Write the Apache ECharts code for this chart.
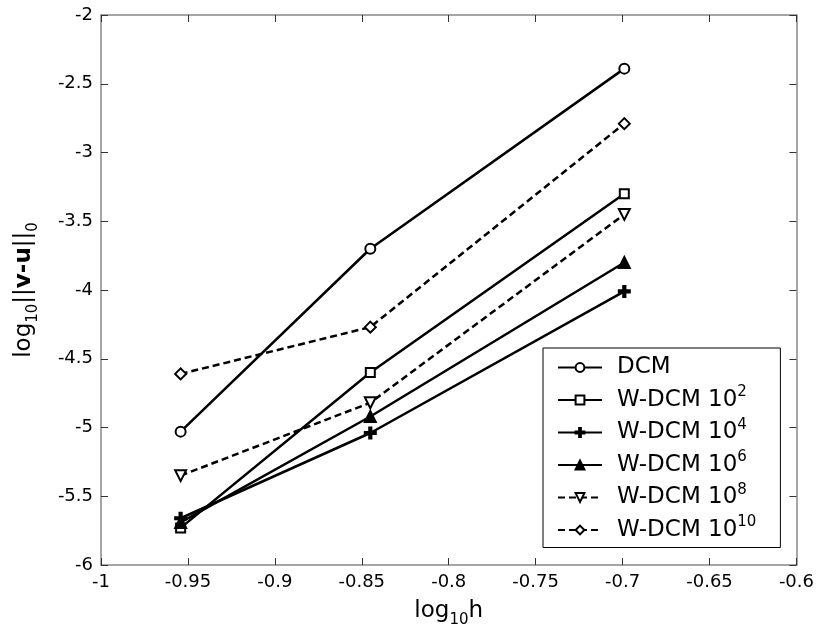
<!DOCTYPE html>
<html>
<head>
<meta charset="utf-8">
<script src="https://cdn.jsdelivr.net/npm/echarts@6/dist/echarts.min.js"></script>
<style>html,body{margin:0;padding:0;background:#fff;}#c{width:817px;height:638px;}</style>
</head>
<body>
<div id="c"></div>
<script>
// log10(h) for h = 1/9, 1/7, 1/5
var xVals = [-0.9542, -0.8451, -0.6990];
var seriesNames = ['DCM', 'W-DCM 10^2', 'W-DCM 10^4', 'W-DCM 10^6', 'W-DCM 10^8', 'W-DCM 10^10'];
var dcm  = [-5.03, -3.70, -2.39];
var w2   = [-5.73, -4.60, -3.30];
var w4   = [-5.66, -5.04, -4.01];
var w6   = [-5.69, -4.92, -3.80];
var w8   = [-5.35, -4.82, -3.45];
var w10  = [-4.61, -4.27, -2.79];
var xTicks = [-1, -0.95, -0.9, -0.85, -0.8, -0.75, -0.7, -0.65, -0.6];
var yTicks = [-6, -5.5, -5, -4.5, -4, -3.5, -3, -2.5, -2];

var FONT = 'DejaVu Sans';
function pairs(ys) { return xVals.map(function (x, i) { return [x, ys[i]]; }); }
var plusPath = 'path://M4,0H6V4H10V6H6V10H4V6H0V4H4Z';
var styles = [
  { data: dcm, symbol: 'emptyCircle', rot: 0, dash: 'solid', size: 10 },
  { data: w2, symbol: 'emptyRect', rot: 0, dash: 'solid', size: 9 },
  { data: w4, symbol: plusPath, rot: 0, dash: 'solid', size: 11 },
  { data: w6, symbol: 'triangle', rot: 0, dash: 'solid', size: 11 },
  { data: w8, symbol: 'emptyTriangle', rot: 180, dash: [7, 4], size: 11 },
  { data: w10, symbol: 'emptyDiamond', rot: 0, dash: [7, 4], size: 11 }
];
var series = styles.map(function (s, i) {
  return {
    name: seriesNames[i], type: 'line', data: pairs(s.data),
    symbol: s.symbol, symbolSize: s.size, symbolRotate: s.rot, showAllSymbol: true,
    lineStyle: { color: '#000', width: 2.5, type: s.dash },
    itemStyle: { color: '#000', borderColor: '#000', borderWidth: 2 },
    xAxisIndex: 0, yAxisIndex: 0, animation: false, z: 3
  };
});

function tickFmt(v) { return String(parseFloat(v.toFixed(2))); }
var common = { type: 'value', splitLine: { show: false } };
var chart = echarts.init(document.getElementById('c'), null, { renderer: 'canvas' });
chart.setOption({
  animation: false,
  backgroundColor: '#fff',
  grid: { left: 101, right: 17, top: 15, bottom: 73 },
  legend: {
    orient: 'vertical', left: 543, top: 348,
    padding: [8, 24, 6, 14], itemGap: 6,
    itemWidth: 44, itemHeight: 11,
    backgroundColor: '#fff', borderColor: '#000', borderWidth: 1, borderRadius: 0,
    data: seriesNames,
    formatter: function (n) {
      var p = n.split('^');
      return p.length > 1 ? '{n|' + p[0] + '}{s|' + p[1] + '}' : '{n|' + n + '}';
    },
    textStyle: {
      padding: [0, 0, 0, 10],
      rich: {
        n: { fontFamily: FONT, fontSize: 23, color: '#000', lineHeight: 30 },
        s: { fontFamily: FONT, fontSize: 15, color: '#000', verticalAlign: 'top', lineHeight: 14 }
      }
    }
  },
  xAxis: [
    Object.assign({}, common, {
      position: 'bottom', min: -1, max: -0.6, interval: 0.05,
      axisLine: { lineStyle: { color: '#888', width: 1.5 } },
      axisTick: { inside: true, length: 7, lineStyle: { color: '#333', width: 1 } },
      axisLabel: { formatter: tickFmt, fontFamily: FONT, fontSize: 18, color: '#000', margin: 8 },
      name: '{a|log}{s|10}{a|h}', nameLocation: 'middle', nameGap: 30,
      nameTextStyle: {
        rich: {
          a: { fontFamily: FONT, fontSize: 23, color: '#000', lineHeight: 33 },
          s: { fontFamily: FONT, fontSize: 15, color: '#000', verticalAlign: 'bottom', lineHeight: 13 }
        }
      }
    }),
    Object.assign({}, common, {
      position: 'top', min: -1, max: -0.6, interval: 0.05,
      axisLine: { show: true, lineStyle: { color: '#888', width: 1.5 } },
      axisTick: { inside: true, length: 7, lineStyle: { color: '#333', width: 1 } },
      axisLabel: { show: false }
    })
  ],
  yAxis: [
    Object.assign({}, common, {
      position: 'left', min: -6, max: -2, interval: 0.5,
      axisLine: { show: true, lineStyle: { color: '#888', width: 1.5 } },
      axisTick: { show: true, inside: true, length: 7, lineStyle: { color: '#333', width: 1 } },
      axisLabel: { formatter: tickFmt, fontFamily: FONT, fontSize: 18, color: '#000', margin: 8 },
      name: '{a|log}{s|10}{a|||}{b|v-u}{a|||}{s|0}', nameLocation: 'middle', nameRotate: 90, nameGap: 60,
      nameTextStyle: {
        rich: {
          a: { fontFamily: FONT, fontSize: 23, color: '#000', lineHeight: 33 },
          b: { fontFamily: FONT, fontSize: 23, color: '#000', fontWeight: 'bold', lineHeight: 33 },
          s: { fontFamily: FONT, fontSize: 15, color: '#000', verticalAlign: 'bottom', lineHeight: 13 }
        }
      }
    }),
    Object.assign({}, common, {
      position: 'right', min: -6, max: -2, interval: 0.5,
      axisLine: { show: true, lineStyle: { color: '#888', width: 1.5 } },
      axisTick: { show: true, inside: true, length: 7, lineStyle: { color: '#333', width: 1 } },
      axisLabel: { show: false }
    })
  ],
  series: series
});
</script>
</body>
</html>
